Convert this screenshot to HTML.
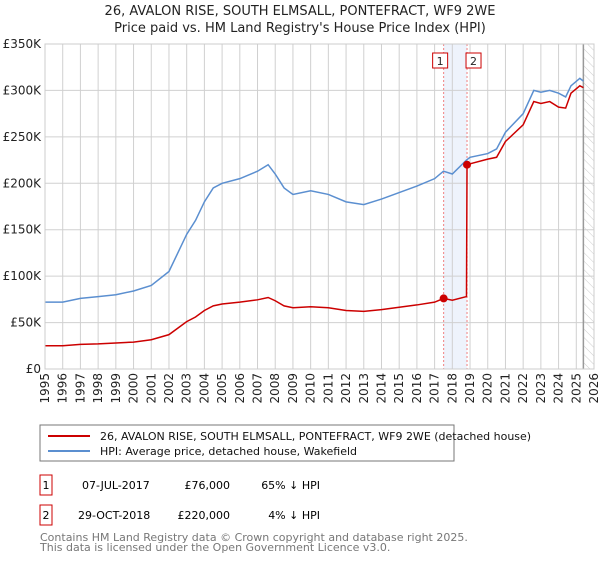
<!DOCTYPE html>
<html><head><meta charset="utf-8"><style>
body{margin:0;background:#fff;font-family:"DejaVu Sans","Liberation Sans",sans-serif;}
svg text{font-family:"DejaVu Sans","Liberation Sans",sans-serif;}
</style></head><body>
<svg id="c" width="600" height="560" xmlns="http://www.w3.org/2000/svg">
<defs><pattern id="hatch" width="6" height="6" patternUnits="userSpaceOnUse" patternTransform="rotate(-45)"><line x1="0" y1="0" x2="0" y2="6" stroke="#ccc" stroke-width="1"/></pattern></defs>
<text x="300" y="15" text-anchor="middle" font-size="13" fill="#222">26, AVALON RISE, SOUTH ELMSALL, PONTEFRACT, WF9 2WE</text>
<text x="300" y="32" text-anchor="middle" font-size="13" fill="#222">Price paid vs. HM Land Registry's House Price Index (HPI)</text>
<g id="plot"></g>
<rect x="40" y="425" width="414" height="36" fill="#fff" stroke="#777"/>
<line x1="48" y1="436" x2="90" y2="436" stroke="#cc0000" stroke-width="2"/>
<text x="100" y="440" font-size="11" fill="#111">26, AVALON RISE, SOUTH ELMSALL, PONTEFRACT, WF9 2WE (detached house)</text>
<line x1="48" y1="451" x2="90" y2="451" stroke="#5b8fd0" stroke-width="2"/>
<text x="100" y="455" font-size="11" fill="#111">HPI: Average price, detached house, Wakefield</text>
<g>
<rect x="40" y="475" width="12" height="20" fill="#fff" stroke="#cc0000"/><text x="46" y="489" text-anchor="middle" font-size="11">1</text>
<text x="82" y="489" font-size="11">07-JUL-2017</text><text x="230" y="489" text-anchor="end" font-size="11">£76,000</text><text x="320" y="489" text-anchor="end" font-size="11">65% ↓ HPI</text></g>
<g>
<rect x="40" y="505" width="12" height="20" fill="#fff" stroke="#cc0000"/><text x="46" y="519" text-anchor="middle" font-size="11">2</text>
<text x="78" y="519" font-size="11">29-OCT-2018</text><text x="230" y="519" text-anchor="end" font-size="11">£220,000</text><text x="320" y="519" text-anchor="end" font-size="11">4% ↓ HPI</text></g>
<text x="40" y="541" font-size="11" fill="#777">Contains HM Land Registry data © Crown copyright and database right 2025.</text>
<text x="40" y="551" font-size="11" fill="#777">This data is licensed under the Open Government Licence v3.0.</text>
</svg>
<script>
const yearTicks=[1995,1996,1997,1998,1999,2000,2001,2002,2003,2004,2005,2006,2007,2008,2009,2010,2011,2012,2013,2014,2015,2016,2017,2018,2019,2020,2021,2022,2023,2024,2025,2026];
const priceTicks=[0,50000,100000,150000,200000,250000,300000,350000];
const priceTickLabels=["£0","£50K","£100K","£150K","£200K","£250K","£300K","£350K"];
const hpiYears=[1995,1996,1997,1998,1999,2000,2001,2002,2003,2003.5,2004,2004.5,2005,2006,2007,2007.6,2008,2008.5,2009,2010,2011,2012,2013,2014,2015,2016,2017,2017.5,2018,2018.8,2019,2020,2020.5,2021,2022,2022.6,2023,2023.5,2024,2024.4,2024.7,2025.2,2025.4];
const hpiValues=[72000,72000,76000,78000,80000,84000,90000,105000,145000,160000,180000,195000,200000,205000,213000,220000,210000,195000,188000,192000,188000,180000,177000,183000,190000,197000,205000,213000,210000,225000,228000,232000,237000,255000,275000,300000,298000,300000,297000,293000,305000,313000,310000];
const propYears=[1995,1996,1997,1998,1999,2000,2001,2002,2003,2003.5,2004,2004.5,2005,2006,2007,2007.6,2008,2008.5,2009,2010,2011,2012,2013,2014,2015,2016,2017,2017.51,2018,2018.8,2018.83,2019,2020,2020.5,2021,2022,2022.6,2023,2023.5,2024,2024.4,2024.7,2025.2,2025.4];
const propValues=[25000,25000,26500,27000,28000,29000,31500,37000,51000,56000,63000,68000,70000,72000,74500,77000,73500,68000,66000,67000,66000,63000,62000,64000,66500,69000,72000,76000,74000,78000,220000,221000,226000,228000,245000,263000,288000,286000,288000,282000,281000,297000,305000,303000];
const saleYears=[2017.51,2018.83];
const salePrices=[76000,220000];
const saleLabels=["1","2"];
const X0=45,X1=594,Y0=369,Y1=44;
const xs=y=>X0+(y-1995)/(2026-1995)*(X1-X0);
const ys=v=>Y0-v/350000*(Y0-Y1);
const NS="http://www.w3.org/2000/svg";
const g=document.getElementById('plot');
function mk(t,a){const e=document.createElementNS(NS,t);for(const k in a)e.setAttribute(k,a[k]);g.appendChild(e);return e;}
let band=mk('rect',{x:xs(saleYears[0]),y:Y1,width:xs(saleYears[1])-xs(saleYears[0]),height:Y0-Y1,fill:'#eef3fc'});


let hat=mk('rect',{x:xs(2025.4),y:Y1,width:X1-xs(2025.4),height:Y0-Y1,fill:'url(#hatch)'});


yearTicks.forEach(yr=>{
  const l=mk('line',{x1:xs(yr),x2:xs(yr),y1:Y1,y2:Y0,stroke:'#d0d0d0'});
  
  
  const tx=xs(yr)+4, ty=Y0+4;
  const t=mk('text',{x:tx,y:ty,'text-anchor':'end','font-size':'12',fill:'#222',transform:'rotate(-90 '+tx+' '+ty+')'});
  t.textContent=yr;
  
  
});
priceTicks.forEach((v,i)=>{
  const l=mk('line',{x1:X0,x2:X1,y1:ys(v),y2:ys(v),stroke:'#d0d0d0'});
  
  
  const t=mk('text',{x:X0-4,y:ys(v)+4,'text-anchor':'end','font-size':'12',fill:'#222'});
  t.textContent=priceTickLabels[i];
  
  
});
let nl=mk('line',{x1:xs(2025.4),x2:xs(2025.4),y1:Y1,y2:Y0,stroke:'#999','stroke-width':1.5});


saleYears.forEach((yr,i)=>{
  const l=mk('line',{x1:xs(yr),x2:xs(yr),y1:Y1,y2:Y0,stroke:'#f08080','stroke-dasharray':'2,2'});
  
  
  const r=mk('rect',{x:xs(yr)+(i==0?-10:0)-1,y:53,width:15,height:15,fill:'#fff',stroke:'#cc0000'});
  
  
  const t=mk('text',{x:xs(yr)+(i==0?-10:0)+6.5,y:65,'text-anchor':'middle','font-size':'11',fill:'#222'});
  t.textContent=saleLabels[i];
  
  
});
const hp=mk('polyline',{points:hpiYears.map((y,i)=>xs(y)+','+ys(hpiValues[i])).join(' '),fill:'none',stroke:'#5b8fd0','stroke-width':1.5});


const pp=mk('polyline',{points:propYears.map((y,i)=>xs(y)+','+ys(propValues[i])).join(' '),fill:'none',stroke:'#cc0000','stroke-width':1.5});


saleYears.forEach((yr,i)=>{
  const c=mk('circle',{cx:xs(yr),cy:ys(salePrices[i]),r:4,fill:'#cc0000'});
  
  
});
const ax=mk('rect',{x:X0,y:Y1,width:X1-X0,height:Y0-Y1,fill:'none',stroke:'#ccc'});


</script>
</body></html>
